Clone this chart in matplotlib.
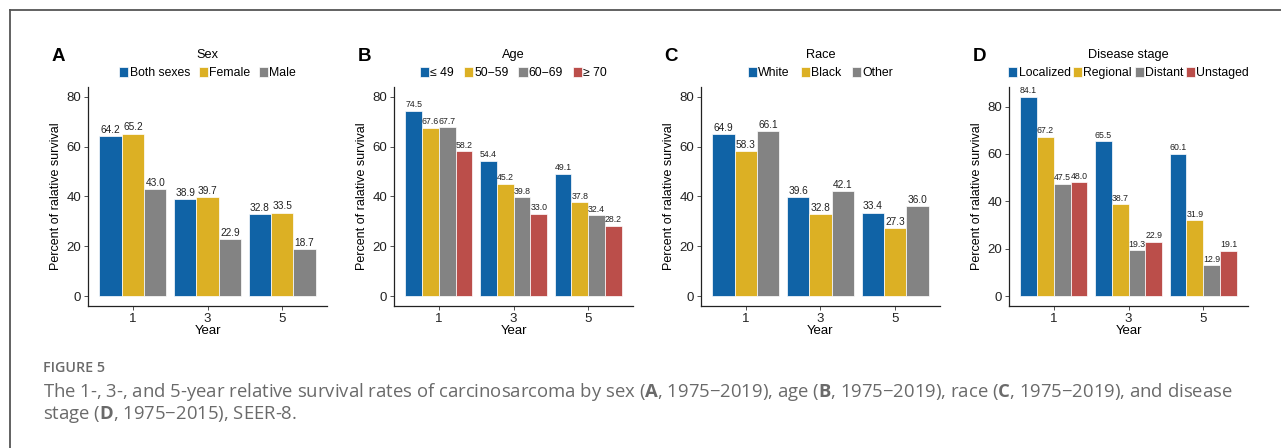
import numpy as np
import matplotlib
matplotlib.use("Agg")
import matplotlib.pyplot as plt
from matplotlib.lines import Line2D

plt.rcParams['font.family'] = ['Liberation Sans', 'DejaVu Sans']
plt.rcParams['mathtext.fontset'] = 'custom'
plt.rcParams['mathtext.bf'] = 'Open Sans:bold'
plt.rcParams['mathtext.rm'] = 'Open Sans'

years = ["1", "3", "5"]

# panel A - sex
sex_names = ["Both sexes", "Female", "Male"]
sex_vals = [[64.2, 38.9, 32.8],
            [65.2, 39.7, 33.5],
            [43.0, 22.9, 18.7]]

# panel B - age
age_names = ["\u2264 49", "50\u221259", "60\u221269", "\u2265 70"]
age_vals = [[74.5, 54.4, 49.1],
            [67.6, 45.2, 37.8],
            [67.7, 39.8, 32.4],
            [58.2, 33.0, 28.2]]

# panel C - race
race_names = ["White", "Black", "Other"]
race_vals = [[64.9, 39.6, 33.4],
             [58.3, 32.8, 27.3],
             [66.1, 42.1, 36.0]]

# panel D - stage
stage_names = ["Localized", "Regional", "Distant", "Unstaged"]
stage_vals = [[84.1, 65.5, 60.1],
              [67.2, 38.7, 31.9],
              [47.5, 19.3, 12.9],
              [48.0, 22.9, 19.1]]

blue = "#1063A6"
gold = "#DCB024"
grey = "#838383"
red = "#BB4E4A"

panels = [
    ("A", "Sex", sex_names, sex_vals, [blue, gold, grey], 0.0687, (-4, 84), 0.7),
    ("B", "Age", age_names, age_vals, [blue, gold, grey, red], 0.3076, (-4, 84), 0.8),
    ("C", "Race", race_names, race_vals, [blue, gold, grey], 0.5472, (-4, 84), 0.9),
    ("D", "Disease stage", stage_names, stage_vals, [blue, gold, grey, red], 0.7877, (-4.2, 88.3), 0.2),
]

fig = plt.figure(figsize=(12.81, 4.48), dpi=100)

# outer frame
fig.add_artist(Line2D([10/1281, 1.0], [1 - 10/448, 1 - 10/448], color="#555555", lw=1.3))
fig.add_artist(Line2D([10/1281, 10/1281], [0.0, 1 - 10/448], color="#555555", lw=1.3))

x = np.arange(len(years))
for letter, title, names, vals, cols, left, ylim, cspace in panels:
    ax = fig.add_axes([left, 0.317, 0.1866, 0.489])
    n = len(names)
    w = 0.9 / n
    lab_size = 7.3 if n == 3 else 6.3
    for i in range(n):
        pos = x - 0.45 + w * (i + 0.5)
        bars = ax.bar(pos, vals[i], width=w, color=cols[i], edgecolor="white",
                      linewidth=0.5, label=names[i])
        ax.bar_label(bars, labels=["%.1f" % v for v in vals[i]], padding=1,
                     fontsize=lab_size, color="#222222")
    ax.set_xlim(-0.6, 2.6)
    ax.set_ylim(*ylim)
    ax.set_xticks(x)
    ax.set_xticklabels(years)
    ax.set_yticks([0, 20, 40, 60, 80])
    ax.tick_params(labelsize=9.5, length=3, width=0.6, colors="#333333", labelcolor="#222222", pad=2)
    for s in ["top", "right"]:
        ax.spines[s].set_visible(False)
    for s in ["left", "bottom"]:
        ax.spines[s].set_linewidth(0.9)
        ax.spines[s].set_color("#222222")
    ax.set_xlabel("Year", fontsize=9.5, labelpad=0)
    ax.set_ylabel("Percent of ralative survival", fontsize=9, labelpad=3)
    leg = ax.legend(ncol=n, loc="lower center", bbox_to_anchor=(0.5, 1.0), frameon=False,
                    title=title, fontsize=8.8, title_fontsize=9.2, handlelength=0.75,
                    handleheight=0.85, handletextpad=0.1, columnspacing=cspace,
                    borderaxespad=0.55, borderpad=0.1, labelspacing=0.2)
    leg._legend_box.sep = 4
    ax.text(-0.125, 1.137, letter, transform=ax.transAxes, fontsize=13.5,
            fontweight="bold", ha="center", va="center")

gcol = "#6a6a6a"
fig.text(43/1281, 1 - 368/448, "FIGURE 5", fontsize=10.3, color="#6a6a6a",
         family="Open Sans", fontweight="semibold", va="center")
fig.text(43/1281, 1 - 392/448,
         "The 1-, 3-, and 5-year relative survival rates of carcinosarcoma by sex ($\\mathbf{A}$, 1975\u22122019), "
         "age ($\\mathbf{B}$, 1975\u22122019), race ($\\mathbf{C}$, 1975\u22122019), and disease",
         fontsize=13.3, color=gcol, family="Open Sans", va="center")
fig.text(43/1281, 1 - 414/448,
         "stage ($\\mathbf{D}$, 1975\u22122015), SEER-8.",
         fontsize=13.3, color=gcol, family="Open Sans", va="center")

fig.savefig("out.png", dpi=100)
